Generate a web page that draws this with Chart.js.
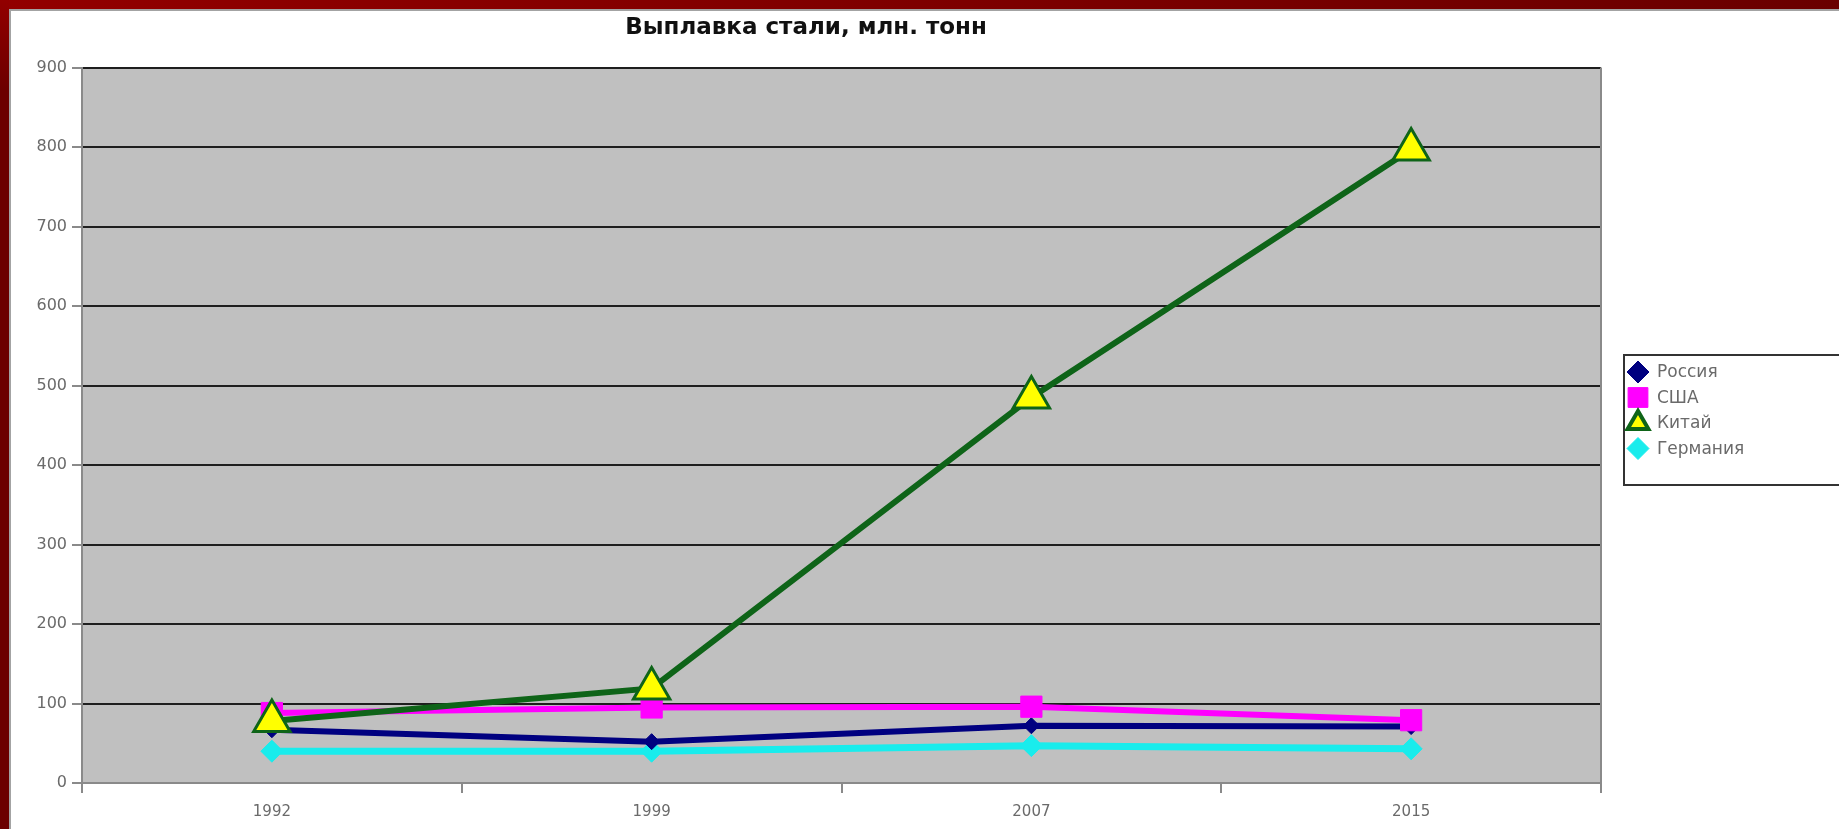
<!DOCTYPE html>
<html>
<head>
<meta charset="utf-8">
<script src="https://cdn.jsdelivr.net/npm/chart.js@4/dist/chart.umd.min.js"></script>
<style>
    html, body { margin: 0; padding: 0; }
    body { width: 1839px; height: 829px; overflow: hidden; background: #6c0000; position: relative; }
    #topband { position: absolute; left: 0; top: 0; width: 1839px; height: 9px; background: linear-gradient(to right, #920000, #6a0000); }
    #leftband { position: absolute; left: 0; top: 0; width: 9px; height: 829px; background: linear-gradient(to bottom, #920000 0, #6c0000 90px); }
    #frame { position: absolute; left: 9px; top: 9px; width: 1828px; height: 818px; border-left: 2px solid #a3a3a3; border-top: 2px solid #a3a3a3; background: #fff; }
</style>
</head>
<body>
<div id="topband"></div>
<div id="leftband"></div>
<div id="frame"><canvas id="steelChart" width="1828" height="818"></canvas></div>
<script>
const years = ['1992', '1999', '2007', '2015'];
const russia = [67, 52, 72, 71];
const usa = [88, 95, 96, 79];
const china = [78, 119, 485, 797];
const germany = [40, 40, 47, 43];
const yTicks = [0, 100, 200, 300, 400, 500, 600, 700, 800, 900];

document.addEventListener("DOMContentLoaded", () => {
    const ctx = document.getElementById('steelChart').getContext('2d');
    const font = 'DejaVu Sans';

    // grey plot area like the old spreadsheet charts
    const plotBackground = {
        id: 'plotBackground',
        beforeDraw(chart) {
            const a = chart.chartArea;
            const c = chart.ctx;
            c.save();
            c.fillStyle = '#c0c0c0';
            c.fillRect(a.left, a.top, a.right - a.left, a.bottom - a.top);
            c.restore();
        },
        beforeDatasetsDraw(chart) {
            const a = chart.chartArea;
            const c = chart.ctx;
            c.save();
            c.strokeStyle = '#8a8a8a';
            c.lineWidth = 2;
            c.beginPath();
            c.moveTo(a.right, a.top);
            c.lineTo(a.right, a.bottom);
            c.stroke();
            c.restore();
        }
    };

    function marker(c, style, x, y, r) {
        c.beginPath();
        if (style === 'rectRot') {
            c.moveTo(x, y - r); c.lineTo(x + r, y); c.lineTo(x, y + r); c.lineTo(x - r, y);
        } else if (style === 'rect') {
            const s = r * Math.SQRT1_2;
            c.rect(x - s, y - s, 2 * s, 2 * s);
        } else {
            c.moveTo(x, y - r); c.lineTo(x + r * 0.866, y + r * 0.5); c.lineTo(x - r * 0.866, y + r * 0.5);
        }
        c.closePath();
        c.fill();
        c.stroke();
    }

    // boxed legend on the right, partly cut by the edge
    const boxLegend = {
        id: 'boxLegend',
        afterDraw(chart) {
            const c = chart.ctx;
            const left = 1613, top = 344;
            c.save();
            c.strokeStyle = '#333';
            c.lineWidth = 2;
            c.strokeRect(left, top, 240, 130);
            c.font = '17px ' + font;
            c.textBaseline = 'middle';
            c.textAlign = 'left';
            chart.data.datasets.forEach((ds, i) => {
                const y = top + 17 + i * 25.5;
                c.fillStyle = ds.pointBackgroundColor;
                c.strokeStyle = ds.pointBorderColor;
                c.lineWidth = ds.legendBorder;
                marker(c, ds.pointStyle, left + 14, y, ds.legendRadius);
                c.fillStyle = '#6a6a6a';
                c.fillText(ds.label, left + 33, y + 1);
            });
            c.restore();
        }
    };

    new Chart(ctx, {
        type: 'line',
        data: {
            labels: years,
            datasets: [{
                label: 'Россия',
                data: russia,
                borderColor: '#000080',
                borderWidth: 6,
                pointStyle: 'rectRot',
                pointRadius: 8,
                pointBackgroundColor: '#000080',
                pointBorderColor: '#000080',
                pointBorderWidth: 1,
                legendRadius: 11,
                legendBorder: 1,
                order: 2
            }, {
                label: 'США',
                data: usa,
                borderColor: '#ff00ff',
                borderWidth: 6,
                pointStyle: 'rect',
                pointRadius: 15,
                pointBackgroundColor: '#ff00ff',
                pointBorderColor: '#ff00ff',
                pointBorderWidth: 1,
                legendRadius: 14,
                legendBorder: 1,
                order: 1
            }, {
                label: 'Китай',
                data: china,
                borderColor: '#0e6418',
                borderWidth: 6,
                pointStyle: 'triangle',
                pointRadius: 21,
                pointBackgroundColor: '#ffff00',
                pointBorderColor: '#0e6418',
                pointBorderWidth: 3,
                legendRadius: 12,
                legendBorder: 4,
                order: 0
            }, {
                label: 'Германия',
                data: germany,
                borderColor: '#19ecec',
                borderWidth: 7,
                pointStyle: 'rectRot',
                pointRadius: 11,
                pointBackgroundColor: '#19ecec',
                pointBorderColor: '#19ecec',
                pointBorderWidth: 1,
                legendRadius: 11,
                legendBorder: 1,
                order: 3
            }]
        },
        options: {
            responsive: false,
            animation: false,
            tension: 0,
            layout: { padding: { left: 0, right: 238, top: 0, bottom: 0 } },
            plugins: {
                legend: { display: false },
                tooltip: { enabled: false },
                title: {
                    display: true,
                    text: 'Выплавка стали, млн. тонн',
                    color: '#111',
                    font: { family: font, size: 23, weight: 'bold' },
                    padding: { top: 3, bottom: 26 }
                }
            },
            scales: {
                x: {
                    offset: true,
                    grid: {
                        offset: true,
                        drawOnChartArea: false,
                        tickLength: 10,
                        tickColor: '#8a8a8a',
                        lineWidth: 2
                    },
                    border: { color: '#8a8a8a', width: 2 },
                    ticks: {
                        color: '#6a6a6a',
                        font: { family: font, size: 15 },
                        padding: 10,
                        maxRotation: 0
                    },
                    afterFit(scale) { scale.height = 46; }
                },
                y: {
                    min: yTicks[0],
                    max: yTicks[yTicks.length - 1],
                    afterBuildTicks(scale) { scale.ticks = yTicks.map(v => ({ value: v })); },
                    grid: {
                        color: c => (c.tick && c.tick.value === 0) ? '#8a8a8a' : '#1e1e1e',
                        lineWidth: 2,
                        tickLength: 10,
                        tickColor: '#8a8a8a'
                    },
                    border: { color: '#8a8a8a', width: 2 },
                    ticks: {
                        color: '#6a6a6a',
                        font: { family: font, size: 16 },
                        padding: 5
                    },
                    afterFit(scale) { scale.width = 71; }
                }
            }
        },
        plugins: [plotBackground, boxLegend]
    });
});
</script>
</body>
</html>
